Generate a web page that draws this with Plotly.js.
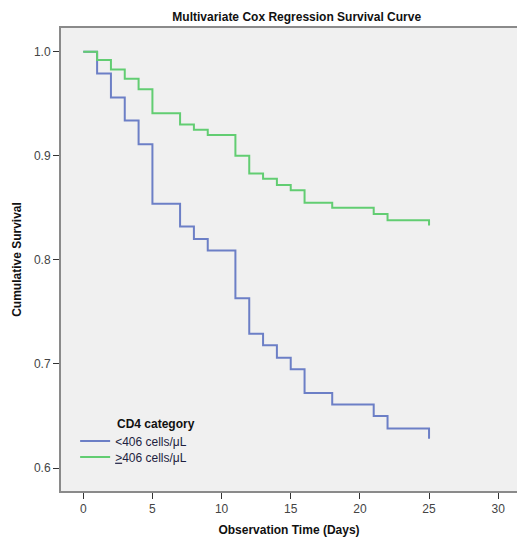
<!DOCTYPE html>
<html>
<head>
<meta charset="utf-8">
<script src="https://cdn.plot.ly/plotly-3.0.1.min.js"></script>
<style>html,body{margin:0;padding:0;background:#fff;}</style>
</head>
<body>
<div id="chart" style="width:517px;height:537px;"></div>
<script>
const timesLow = [0,1,2,3,4,5,7,8,9,11,12,13,14,15,16,18,21,22,25];
const survLow  = [1.0,0.979,0.956,0.934,0.911,0.854,0.832,0.820,0.809,0.763,0.729,0.718,0.706,0.695,0.672,0.661,0.650,0.638,0.628];
const timesHigh = [0,1,2,3,4,5,7,8,9,11,12,13,14,15,16,18,21,22,25];
const survHigh  = [1.0,0.992,0.983,0.974,0.964,0.941,0.930,0.925,0.920,0.900,0.883,0.878,0.872,0.867,0.855,0.850,0.844,0.838,0.833];
const seriesNames = ['<406 cells/μL', '<span style="text-decoration:underline">&gt;</span>406 cells/μL'];
const xTicks = [0,5,10,15,20,25,30];
const yTicks = [0.6,0.7,0.8,0.9,1.0];
const yTickText = ['0.6','0.7','0.8','0.9','1.0'];

const FONT = 'Arial, "Liberation Sans", sans-serif';

const traces = [
  {x: timesLow, y: survLow, name: seriesNames[0], type: 'scatter', mode: 'lines',
   line: {shape: 'hv', color: '#6c7fc6', width: 2}, legend: 'legend'},
  {x: timesHigh, y: survHigh, name: seriesNames[1], type: 'scatter', mode: 'lines',
   line: {shape: 'hv', color: '#62cd72', width: 2}, legend: 'legend2'}
];

const legendBase = {
  x: 0.031, xanchor: 'left', yanchor: 'middle',
  bgcolor: 'rgba(0,0,0,0)', borderwidth: 0,
  font: {family: FONT, size: 12, color: '#1e1e40'},
  itemwidth: 30
};

const layout = {
  width: 517, height: 537,
  margin: {l: 61, r: 0, t: 28, b: 46},
  paper_bgcolor: '#ffffff',
  plot_bgcolor: '#f0f0f0',
  font: {family: FONT, size: 12, color: '#444'},
  title: {text: '<b>Multivariate Cox Regression Survival Curve</b>',
          font: {family: FONT, size: 12, color: '#111'},
          x: 0.517, xref: 'paper', xanchor: 'center',
          y: 1 - 17/537, yref: 'container', yanchor: 'middle'},
  xaxis: {range: [-1.61, 31.36], tickvals: xTicks, ticktext: xTicks.map(String),
          showgrid: false, zeroline: false,
          showline: true, linecolor: '#8a8a8a', linewidth: 2, mirror: true,
          ticks: 'outside', ticklen: 6, tickcolor: '#333', tickwidth: 1,
          tickfont: {family: FONT, size: 12, color: '#444'},
          title: {text: '<b>Observation Time (Days)</b>', standoff: 14,
                  font: {family: FONT, size: 12, color: '#111'}}},
  yaxis: {range: [0.5779, 1.0228], tickvals: yTicks, ticktext: yTickText,
          showgrid: false, zeroline: false,
          showline: true, linecolor: '#8a8a8a', linewidth: 2, mirror: false,
          ticks: 'outside', ticklen: 6, tickcolor: '#333', tickwidth: 1,
          tickfont: {family: FONT, size: 12, color: '#444'},
          title: {text: '<b>Cumulative Survival</b>', standoff: 10,
                  font: {family: FONT, size: 12, color: '#111'}}},
  showlegend: true,
  legend: Object.assign({}, legendBase, {y: (491 - 441)/463}),
  legend2: Object.assign({}, legendBase, {y: (491 - 457)/463}),
  annotations: [
    {text: '<b>CD4 category</b>', xref: 'paper', yref: 'paper',
     x: (115 - 61)/456, y: (491 - 424)/463, xanchor: 'left', yanchor: 'middle',
     showarrow: false, font: {family: FONT, size: 12, color: '#111'}}
  ]
};

Plotly.newPlot('chart', traces, layout, {displayModeBar: false, staticPlot: true});
</script>
</body>
</html>
